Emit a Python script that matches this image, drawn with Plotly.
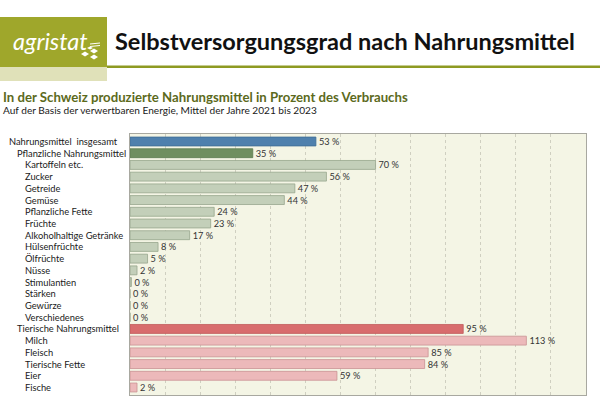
import plotly.graph_objects as go

categories = [
    "Nahrungsmittel  insgesamt", "Pflanzliche Nahrungsmittel", "Kartoffeln etc.", "Zucker",
    "Getreide", "Gemüse", "Pflanzliche Fette", "Früchte", "Alkoholhaltige Getränke",
    "Hülsenfrüchte", "Ölfrüchte", "Nüsse", "Stimulantien", "Stärken", "Gewürze",
    "Verschiedenes", "Tierische Nahrungsmittel", "Milch", "Fleisch", "Tierische Fette",
    "Eier", "Fische",
]
values = [53, 35, 70, 56, 47, 44, 24, 23, 17, 8, 5, 2, 0.4, 0, 0, 0, 95, 113, 85, 84, 59, 2]
levels = [0, 1, 2, 2, 2, 2, 2, 2, 2, 2, 2, 2, 2, 2, 2, 2, 1, 2, 2, 2, 2, 2]
groups = ["total"] + ["plant"] * 15 + ["animal"] * 6
x_ticks = list(range(0, 131, 10))

W, H = 600, 397
ML, MR, MT, MB = 130, 14, 134, 2
PW, PH = W - ML - MR, H - MT - MB


def px(x):
    return (x - ML) / PW


def py(y):
    return (H - MB - y) / PH


fill = []
line = []
for g, lv in zip(groups, levels):
    if g == "total":
        fill.append("#4f80ad"); line.append("#3f6d96")
    elif g == "plant":
        if lv == 1:
            fill.append("#6f8f60"); line.append("#5d7c50")
        else:
            fill.append("#c3cfb9"); line.append("#97a68d")
    else:
        if lv == 1:
            fill.append("#d86c6d"); line.append("#c05a5b")
        else:
            fill.append("#ecb9ba"); line.append("#c99293")

fig = go.Figure(go.Bar(
    y=categories, x=values, orientation="h",
    marker=dict(color=fill, line=dict(color=line, width=0.8)),
    texttemplate="%{x:.0f} %", textposition="outside", constraintext="none",
    textfont=dict(family="Lato", size=9.2, color="#333333"),
    cliponaxis=False, width=0.76, hoverinfo="skip",
))

annotations = []
indent = {0: 7, 1: 15, 2: 23}
for cat, lv in zip(categories, levels):
    annotations.append(dict(
        xref="paper", yref="y", x=px(indent[lv]), y=cat, text=cat, showarrow=False,
        xanchor="left", yanchor="middle", font=dict(family="Lato", size=9.3, color="#1a1a1a"),
    ))

# header texts
annotations += [
    dict(xref="paper", yref="paper", x=px(11), y=py(41), text="<i>agristat</i>", showarrow=False,
         xanchor="left", yanchor="middle", font=dict(family="Lato", size=23.5, color="white")),
    dict(xref="paper", yref="paper", x=px(113), y=py(40.5), text="<b>Selbstversorgungsgrad nach Nahrungsmittel</b>",
         showarrow=False, xanchor="left", yanchor="middle", font=dict(family="Lato", size=23.5, color="#111111")),
    dict(xref="paper", yref="paper", x=px(1), y=py(97),
         text="<b>In der Schweiz produzierte Nahrungsmittel in Prozent des Verbrauchs</b>",
         showarrow=False, xanchor="left", yanchor="middle", font=dict(family="Lato", size=13.2, color="#5c6a1c")),
    dict(xref="paper", yref="paper", x=px(1), y=py(110),
         text="Auf der Basis der verwertbaren Energie, Mittel der Jahre 2021 bis 2023",
         showarrow=False, xanchor="left", yanchor="middle", font=dict(family="Lato", size=10.1, color="#1a1a1a")),
]

shapes = [
    dict(type="rect", xref="paper", yref="paper", x0=px(0), x1=px(107), y0=py(17), y1=py(67),
         fillcolor="#9fa72b", line=dict(width=0), layer="below"),
    dict(type="rect", xref="paper", yref="paper", x0=px(0), x1=px(107), y0=py(67), y1=py(81),
         fillcolor="#e0e1b9", line=dict(width=0), layer="below"),
    dict(type="rect", xref="paper", yref="paper", x0=px(107), x1=px(600), y0=py(65.5), y1=py(68),
         fillcolor="#8e9a22", line=dict(width=0), layer="below"),
]


def diamond(cx, cy, rx, ry):
    return dict(type="path", xref="paper", yref="paper",
                path=f"M {px(cx - rx)} {py(cy)} L {px(cx)} {py(cy - ry)} L {px(cx + rx)} {py(cy)} L {px(cx)} {py(cy + ry)} Z",
                fillcolor="white", line=dict(width=0), layer="above")


shapes += [diamond(85, 54, 4, 2.5), diamond(94, 51, 4, 2.5), diamond(94, 57, 4, 2.5), diamond(90, 48, 3, 1.5)]
for yy in (44, 46.5):
    shapes.append(dict(type="line", xref="paper", yref="paper", x0=px(90), x1=px(100), y0=py(yy), y1=py(yy - 1),
                       line=dict(color="white", width=1), layer="above"))

fig.update_layout(
    width=W, height=H, margin=dict(l=ML, r=MR, t=MT, b=MB),
    paper_bgcolor="white", plot_bgcolor="#f4f5e5",
    showlegend=False, bargap=0.24,
    annotations=annotations, shapes=shapes,
    font=dict(family="Lato"),
    xaxis=dict(range=[0, 130], tickvals=x_ticks, showticklabels=False, showgrid=True,
               gridcolor="#cfcfc0", griddash="dot", gridwidth=1, zeroline=False,
               showline=True, linecolor="#a8a8a0", linewidth=1, mirror=True, ticks=""),
    yaxis=dict(autorange="reversed", showticklabels=False, showgrid=False, zeroline=False,
               showline=True, linecolor="#a8a8a0", linewidth=1, mirror=True, ticks=""),
)

fig.write_html("out.html", config={"displayModeBar": False},
               post_script="document.body.style.margin='0';document.body.style.padding='0';")
